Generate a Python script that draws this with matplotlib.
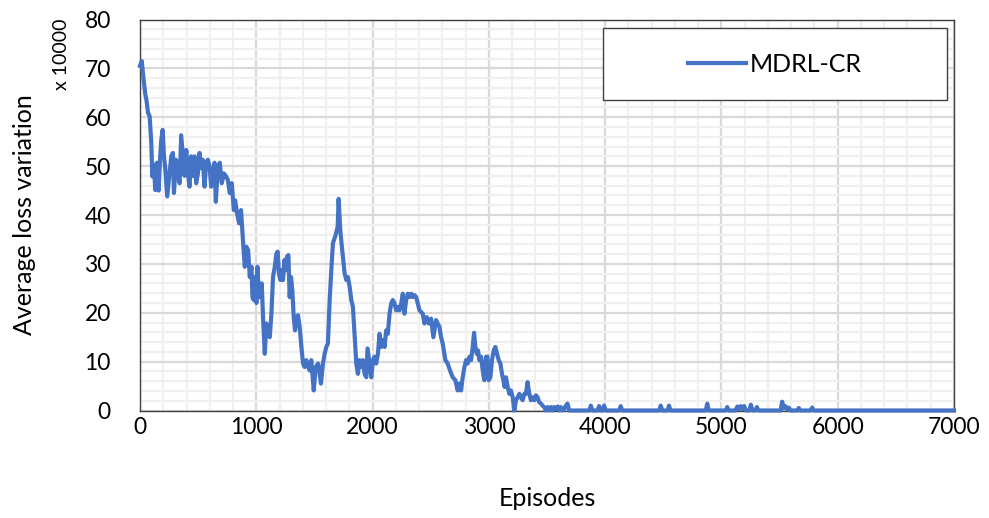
import matplotlib
matplotlib.use("Agg")
import matplotlib.pyplot as plt
from matplotlib.ticker import MultipleLocator
from matplotlib.patches import Rectangle

episodes = [0, 15, 34, 46, 55, 69, 83, 97, 106, 120, 131, 146, 160, 172, 183, 195, 206, 217, 234, 252,
            269, 283, 292, 309, 326, 341, 354, 369, 383, 398, 412, 426, 440, 455, 469, 483, 498, 512, 526, 540,
            555, 569, 583, 598, 612, 626, 641, 652, 669, 686, 703, 721, 738, 755, 772, 789, 807, 818, 835, 852,
            869, 887, 901, 915, 930, 944, 959, 967, 978, 987, 1001, 1010, 1024, 1039, 1047, 1058, 1073, 1087, 1102, 1116,
            1130, 1144, 1159, 1173, 1184, 1195, 1207, 1218, 1230, 1242, 1253, 1264, 1276, 1287, 1299, 1310, 1322, 1333, 1345, 1359,
            1373, 1388, 1402, 1416, 1430, 1445, 1459, 1473, 1494, 1511, 1531, 1545, 1556, 1573, 1588, 1602, 1616, 1631, 1645, 1659,
            1682, 1700, 1708, 1722, 1739, 1760, 1774, 1788, 1803, 1817, 1831, 1845, 1860, 1874, 1888, 1903, 1917, 1931, 1946, 1957,
            1974, 1989, 2003, 2017, 2031, 2046, 2060, 2074, 2089, 2103, 2117, 2131, 2146, 2160, 2174, 2189, 2203, 2217, 2232, 2246,
            2260, 2274, 2289, 2303, 2317, 2332, 2346, 2360, 2375, 2389, 2403, 2432, 2446, 2466, 2483, 2503, 2523, 2546, 2560, 2575,
            2589, 2603, 2626, 2646, 2666, 2689, 2712, 2732, 2746, 2761, 2775, 2790, 2804, 2818, 2833, 2847, 2861, 2873, 2884, 2896,
            2907, 2918, 2933, 2947, 2961, 2976, 2987, 2999, 3013, 3027, 3042, 3056, 3070, 3085, 3099, 3113, 3125, 3136, 3147, 3162,
            3176, 3190, 3205, 3219, 3233, 3248, 3262, 3276, 3290, 3305, 3319, 3333, 3348, 3362, 3376, 3391, 3405, 3419, 3433, 3448,
            3462, 3476, 3491, 3505, 3519, 3534, 3548, 3562, 3576, 3591, 3605, 3619, 3634, 3648, 3662, 3676, 3691,
            3864, 3877, 3890, 3935, 3948, 3961, 3978, 3991, 4004, 4121, 4134, 4147, 4465, 4478, 4491, 4536, 4549, 4562,
            4865, 4878, 4891, 5037, 5050, 5063, 5122, 5136, 5150, 5165, 5180, 5195, 5210, 5240, 5253, 5266,
            5292, 5305, 5318, 5509, 5522, 5536, 5550, 5565, 5579, 5593, 5652, 5665, 5678, 5767, 5780, 5793, 7000]

loss = [70.5, 71.5, 67, 64.6, 63.6, 60.9, 60.2, 54.8, 47.9, 50.3, 45.1, 50.7, 45.0, 51.3, 55.4, 57.4, 52, 49.6, 43.8, 48,
        52, 52.7, 44.5, 51.3, 48, 46.5, 56.3, 52, 48, 53.3, 48.5, 45.8, 52, 48, 52, 46.5, 48.5, 52.7, 49.6, 51.3,
        45.8, 50.7, 51.3, 50, 45.8, 48.5, 50.7, 42.7, 49.6, 50.7, 46.5, 48.5, 48, 47.2, 44.5, 46.5, 41, 43, 40.3, 38.3,
        41, 34.2, 29.4, 33.5, 32.8, 27.3, 29.4, 23.2, 22.6, 27.3, 22, 29.4, 23.2, 25.3, 26, 19.1, 11.6, 17.8, 17.1, 15,
        19.8, 27.3, 29.4, 32.1, 32.5, 28, 26.7, 28.7, 26.7, 30.8, 28.7, 31.5, 31.8, 23.2, 27.3, 24.6, 19.1, 16.4, 18.5, 19.5,
        17.1, 13, 9.6, 8.9, 10.3, 9.0, 8.2, 10.3, 4.1, 8.9, 9.6, 7.5, 5.5, 9.6, 11.6, 13, 13.7, 22.6, 28.7, 34.2,
        35.9, 37.6, 43.3, 36.9, 32.8, 28, 26.7, 27.3, 25.3, 22.6, 21.2, 15.7, 9.6, 7.5, 10.3, 8.9, 10.3, 7.5, 6.8, 12.7,
        9.6, 6.8, 10.3, 11, 9.6, 11.6, 15.7, 13, 14.4, 13, 16.4, 15.7, 19.8, 21.9, 22.6, 21.9, 20.5, 21.2, 20.5, 21.9,
        23.9, 19.8, 22.6, 23.9, 23.2, 23.9, 23.2, 23.6, 23.2, 21.9, 20.5, 19.8, 17.8, 19.1, 17.8, 18.8, 15, 18.5, 17.8, 17.1,
        15, 13.7, 10.3, 9.6, 8.2, 6.8, 6.2, 4.1, 5.5, 4.1, 6.8, 8.9, 10.3, 9.6, 11, 10.3, 13, 15.9, 13, 11.6,
        12.3, 10.3, 11, 8.2, 6.2, 11, 11, 6.2, 6.8, 10.3, 12.3, 13, 11.6, 10.3, 9.6, 7.5, 6.2, 4.8, 6.8, 4.8,
        3.4, 4.1, 2.7, 0, 2.1, 2.7, 3.4, 2.7, 2.1, 3.4, 3.4, 5.8, 3.4, 2.1, 2.7, 2.1, 3.1, 2.7, 1.7, 1.4,
        1.0, 0.7, 0, 0.7, 0, 0.7, 0, 0.7, 0.3, 0.8, 0, 0.7, 0, 0.3, 1.0, 1.4, 0,
        0, 1.0, 0, 0, 0.9, 0, 0, 1.0, 0, 0, 0.9, 0, 0, 1.0, 0, 0, 1.0, 0,
        0, 1.4, 0, 0, 0.7, 0, 0, 0.8, 0.3, 0.9, 0.3, 0.9, 0, 0, 1.2, 0,
        0, 0.7, 0, 0, 1.8, 0.5, 0.9, 0.2, 0.6, 0, 0, 0.5, 0, 0, 0.6, 0, 0]

series_name = "MDRL-CR"
x_label = "Episodes"
y_label = "Average loss variation"
y_unit = "x 10000"

plt.rcParams['font.family'] = ['Lato', 'DejaVu Sans']

fig = plt.figure(figsize=(9.89, 5.18), dpi=100)
ax = fig.add_axes([140 / 989, 1 - 410.5 / 518, 814 / 989, 391 / 518])

ax.plot(episodes, loss, color='#4472C4', lw=3.0, solid_joinstyle='round', zorder=3,
        label=series_name, clip_on=False)

ax.set_xlim(0, 7000)
ax.set_ylim(0, 80)
ax.xaxis.set_major_locator(MultipleLocator(1000))
ax.xaxis.set_minor_locator(MultipleLocator(200))
ax.yaxis.set_major_locator(MultipleLocator(10))
ax.yaxis.set_minor_locator(MultipleLocator(2))
ax.grid(which='minor', color='#F0F0F0', lw=1.6)
ax.grid(which='major', color='#D9D9D9', lw=1.6)
ax.set_axisbelow(True)

ax.tick_params(which='both', length=0)
ax.tick_params(axis='y', pad=21, labelsize=16.5)
ax.tick_params(axis='x', pad=5, labelsize=16.5)

for s in ax.spines.values():
    s.set_color('#404040')
    s.set_linewidth(1.0)

ax.set_xlabel(x_label, fontsize=18)
ax.set_ylabel(y_label, fontsize=18)
ax.xaxis.set_label_coords(0.5, (410.5 - 487) / 391)
ax.yaxis.set_label_coords((36 - 140) / 814, 0.5)

fig.text(62 / 989, 1 - 54 / 518, y_unit, rotation=90, ha='center', va='center', fontsize=14)

# legend frame
x0 = (603 - 140) / 814
x1 = (947 - 140) / 814
y0 = (410.5 - 100) / 391
y1 = (410.5 - 28) / 391
ax.add_patch(Rectangle((x0, y0), x1 - x0, y1 - y0, transform=ax.transAxes,
                       facecolor='white', edgecolor='#404040', lw=1.0, zorder=4))
leg = ax.legend(loc='center', bbox_to_anchor=((x0 + x1) / 2, (y0 + y1) / 2),
                frameon=False, fontsize=18, handlelength=2.3, handletextpad=0.15)
leg.set_zorder(5)

fig.savefig("out.png", dpi=100)
